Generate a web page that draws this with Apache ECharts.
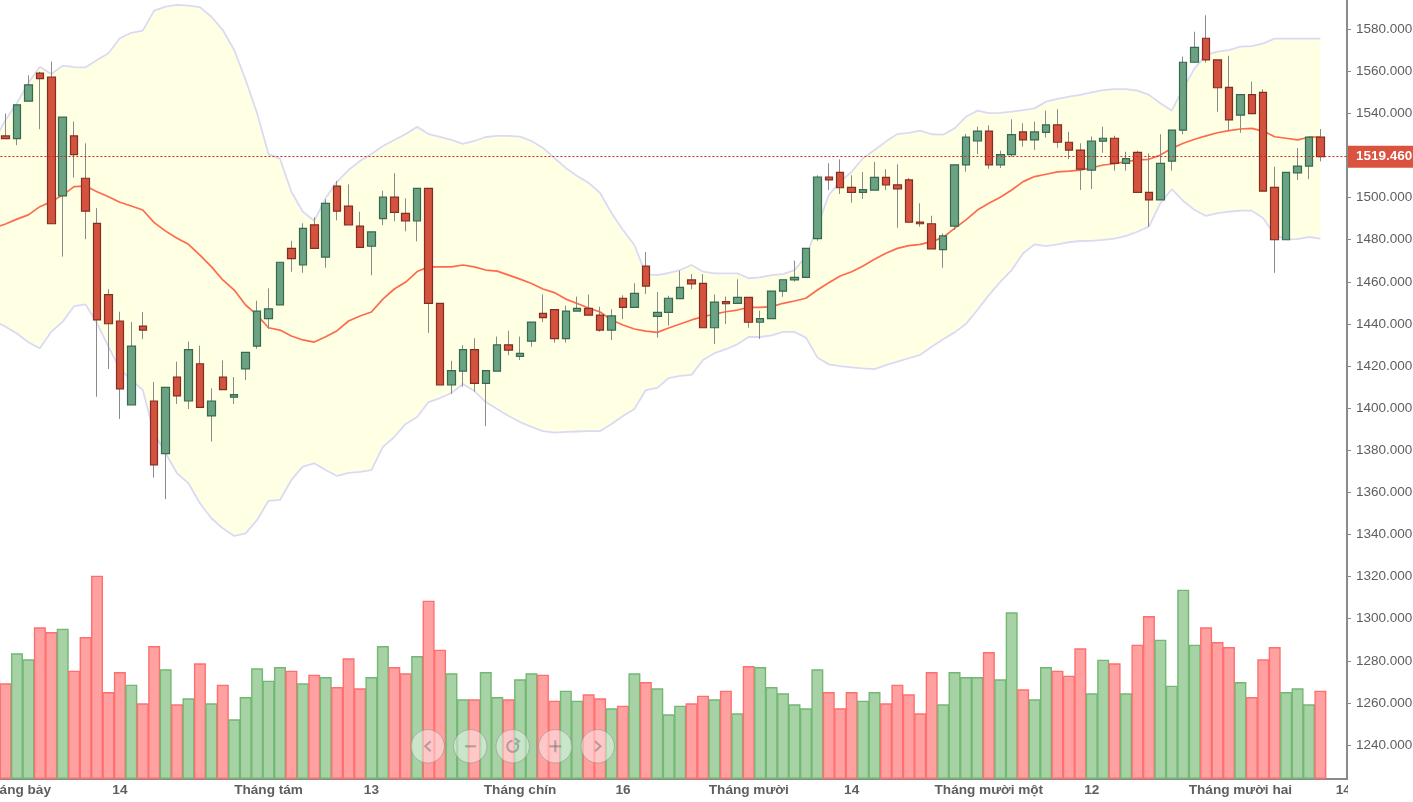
<!DOCTYPE html>
<html>
<head>
<meta charset="utf-8">
<title>Chart</title>
<script src="https://cdn.jsdelivr.net/npm/echarts@6/dist/echarts.min.js"></script>
<style>
  html, body { margin: 0; padding: 0; background: #fff; overflow: hidden; }
  #chart { width: 1413px; height: 802px; }
</style>
</head>
<body>
<div id="chart"></div>
<script>
// Tick labels and the slots they sit on (two bars start before the first label)
var tickSlots = [2, 11, 24, 33, 46, 55, 66, 75, 87, 96, 109, 118];
var tickNames = ['Tháng bảy', '14', 'Tháng tám', '13', 'Tháng chín', '16', 'Tháng mười', '14', 'Tháng mười một', '12', 'Tháng mười hai', '14'];
var priceTicks = [1240, 1260, 1280, 1300, 1320, 1340, 1360, 1380, 1400, 1420, 1440, 1460, 1480, 1500, 1520, 1540, 1560, 1580];
var lastPrice = 1519.46;

var opens = [1524,1529.3,1528,1545.8,1559.1,1557.3,1500.8,1529.3,1509.2,1487.8,1453.9,1441.4,1401.5,1439,1403.4,1378.4,1414.7,1403.4,1421.1,1396.3,
  1414.7,1405.2,1418.7,1429.5,1442.5,1449.1,1475.9,1468,1487.1,1471.7,1505.5,1496,1486.5,1476.9,1490,1500.2,1492.5,1488.9,1504.4,1449.8,
  1411,1417.6,1427.8,1411.8,1417.6,1430.1,1424.6,1431.8,1445,1446.8,1433,1446.1,1447.4,1444.2,1437.1,1452.2,1447.9,1467.5,1443.6,1445.5,
  1452,1460.9,1459.3,1438.2,1450.6,1449.8,1452.6,1440.8,1442.5,1455.6,1460.9,1462.1,1480.5,1509.8,1512,1504.9,1502.5,1503.6,1509.6,1506.1,
  1508.4,1488.4,1487.6,1475.3,1486.5,1515.6,1526.9,1531.6,1515.6,1520.4,1531.2,1527.4,1531,1534.6,1526.3,1522.6,1513.1,1526.8,1528.2,1516.3,
  1521.5,1502.5,1498.9,1517.3,1532.1,1564.3,1575.7,1565.4,1552.4,1539.2,1548.9,1550,1504.9,1480,1511.8,1515,1528.7];
var closes = [1530,1528,1544.1,1553.6,1556.5,1487.6,1538.2,1520.4,1493.6,1441.9,1440.1,1409.2,1429.5,1437.1,1373.1,1409.9,1405.8,1427.8,1400.4,1403.4,
  1408.8,1406.4,1426.5,1446.1,1447.2,1469.3,1471,1485.4,1475.9,1497.3,1493.6,1487,1476.4,1483.7,1500.2,1493,1488.9,1504.4,1449.8,1411,
  1417.8,1427.8,1411.8,1417.8,1430.1,1427.6,1426,1440.9,1443,1433,1446.1,1447.4,1444.2,1437.1,1443.8,1447.9,1454.5,1458,1445.5,1452.2,
  1457.4,1459,1438.2,1450.4,1449.6,1452.6,1440.8,1442.5,1455.6,1461,1462.1,1475.9,1509.8,1508.4,1504.7,1502.5,1503.8,1509.6,1506,1504.2,
  1488.3,1487.6,1475.7,1481.8,1515.6,1528.7,1531.6,1515.6,1520.4,1529.9,1527.4,1531.2,1534.6,1526.3,1522.6,1513.5,1526.9,1528.2,1516.3,1518.5,
  1502.5,1498.9,1516.3,1532.1,1564.3,1571.4,1565.4,1552.2,1536.9,1548.9,1539.9,1503.1,1480,1512,1515,1528.7,1519.46];
var lows = [1520,1528,1524.9,1545.8,1532.5,1487.6,1472,1509.5,1480.3,1405.4,1418.6,1394.9,1401.5,1432.8,1367,1356.8,1402,1399.6,1400.4,1384.1,
  1408.8,1402,1413.4,1428.2,1437.7,1449.1,1464.8,1464.3,1475.9,1466.7,1489.2,1487,1476.4,1463.1,1486.9,1488.8,1484,1479.2,1435.8,1411,
  1406.7,1410.2,1407.8,1391.5,1417.6,1425.1,1422.9,1429.2,1440.9,1431.1,1431.1,1446.1,1444.2,1436.3,1432.4,1442.3,1447.9,1454.2,1433.5,1439.2,
  1452,1456.5,1438.2,1430.5,1440,1449.8,1438.2,1432.9,1442.5,1452.9,1460.1,1462.1,1479.5,1503.6,1501.7,1497.6,1499.4,1503.6,1503.6,1485.7,
  1488.3,1486.2,1475.7,1466.7,1484.6,1512.3,1520.7,1513.7,1514.1,1519.4,1524.2,1522.6,1528.5,1523.7,1518.3,1503.6,1504.1,1521.3,1512.8,1512.8,
  1502.5,1486.2,1498.9,1512.8,1530.1,1564.3,1564.1,1540.8,1531.8,1530.8,1539.9,1503.1,1464.3,1480,1508.4,1508.8,1517.2];
var highs = [1535,1540,1544.1,1558.1,1559.8,1564.6,1538.2,1536.1,1525.8,1495,1456.5,1445.8,1440.9,1445.7,1412.4,1409.9,1422.1,1431.6,1429.7,1409.4,
  1422.7,1414.8,1426.5,1451,1456.9,1469.3,1479.5,1487.8,1490.7,1499.2,1507.9,1506.3,1493.3,1483.7,1503.3,1511.6,1499.7,1504.4,1504.4,1449.8,
  1422.5,1429.9,1433.2,1417.8,1434,1436.8,1434,1440.9,1454,1446.8,1448.7,1453,1454,1448.2,1447,1453.6,1459.3,1474.2,1455.2,1453.4,
  1465.3,1463.7,1463.7,1454,1453,1461.2,1452.6,1446.3,1455.6,1461,1470,1475.9,1510.6,1516.3,1518.2,1510.6,1512.2,1517,1513.5,1515.8,
  1509.3,1497.3,1491.4,1483,1515.6,1530.2,1533.7,1534.3,1522.3,1537.2,1535.3,1536.1,1541.3,1542,1531.3,1525.8,1529,1533.7,1529.4,1521.8,
  1522.3,1521,1530.1,1532.1,1567,1578.8,1586.6,1565.4,1567.4,1548.9,1555.1,1551.5,1514.7,1512,1523.6,1528.7,1532.6];

// Bollinger style bands and the middle average
var upperBand = [1526.9,1536.9,1545,1554.4,1562.2,1558.7,1562.7,1562,1561.9,1565.4,1568.6,1575.7,1578.3,1579.3,1588.8,1590.7,1591.6,1591.2,1590.5,1585.9,
  1579.6,1570.1,1555.9,1540.1,1520.7,1518.5,1502.8,1493.3,1489,1499.8,1507.6,1513.1,1517.4,1520.7,1524.5,1527.4,1530.2,1533.6,1530.2,1528.8,
  1527.4,1525.5,1526.9,1528.8,1529.3,1529.3,1529,1526.9,1523.6,1518.8,1514.1,1510.3,1507,1502.2,1492.7,1484.6,1477.5,1463.7,1463.2,1464.2,
  1465.6,1468,1464.8,1464,1464,1464,1461.7,1462.1,1463.2,1463.7,1465.6,1472,1486.2,1501.2,1507.6,1512.3,1518.7,1522.6,1526.6,1530.2,
  1530.8,1531.8,1530.1,1529.9,1532.9,1538.4,1541.3,1540.1,1540.3,1540.8,1541.6,1542.4,1545.6,1546.9,1548,1548.8,1550,1551.1,1551.5,1551.5,
  1550.8,1548.8,1544.8,1541.3,1551.9,1561.4,1567.8,1569.3,1570.1,1571.7,1572,1573.3,1575.5,1575.5,1575.5,1575.5,1575.5];
var lowerBand = [1441.4,1438.7,1435.5,1431.3,1428.4,1436.3,1441.1,1448.5,1449.3,1440.3,1429.2,1418.5,1413.4,1408.6,1388.1,1378.6,1369.1,1364.3,1354.8,1347.7,
  1342.9,1339.3,1340.5,1346.9,1356,1356.4,1365.9,1372.2,1373.8,1370.6,1367.8,1369.3,1369.7,1370.6,1381.6,1386.3,1392.5,1395.8,1402.9,1404.8,
  1407.2,1411.5,1408.1,1402.9,1399.6,1396.3,1393.4,1391.1,1389.1,1388.4,1388.7,1388.9,1389.1,1389.1,1392.5,1396.3,1399.6,1408.6,1409.6,1414.3,
  1415.3,1415.8,1422.9,1426.1,1428,1430.3,1433.8,1433.8,1434.6,1436.2,1436.2,1433.5,1424.1,1420.8,1420,1419.4,1418.9,1418.5,1420.4,1422.1,
  1423.7,1425.3,1429.2,1432.7,1436,1440,1446.6,1453.7,1460,1465.6,1473.6,1477.8,1477,1477.8,1478.8,1479.4,1479.5,1479.9,1480.5,1481.8,
  1483.8,1486.2,1497.3,1504,1498.4,1494.1,1491.3,1492.6,1493.3,1493.8,1493.8,1490.2,1482.3,1480.2,1480.3,1481.3,1480.5];
var middleBand = [1485.6,1487.5,1489.8,1491.8,1495.7,1498.1,1501.2,1505.2,1505.5,1502.8,1500.4,1497.8,1496,1494.1,1488.1,1484.1,1480.7,1477.8,1472.7,1467.2,
  1460.9,1456.1,1449,1444.2,1438.2,1437.1,1434.3,1432.4,1431.4,1433.9,1436.8,1441.4,1443.8,1445.7,1451.8,1456.6,1459.9,1464.9,1467.1,1467.1,
  1467.1,1468,1467.1,1465.6,1465.1,1463.2,1461.3,1459.2,1456.6,1454.9,1451.8,1449.7,1447.6,1445.7,1441.9,1439.5,1437.6,1436.6,1436,1438.1,
  1440,1441.9,1443.4,1444.7,1445.8,1446.6,1447.9,1447.9,1448.2,1449.8,1450.9,1452.2,1456.1,1459.6,1462.8,1464.8,1467.5,1470.7,1473.6,1475.9,
  1477.2,1477.8,1479.1,1481.1,1485.4,1489.4,1494.1,1497.3,1500.2,1503.6,1507.6,1510,1511.1,1512.2,1512.6,1513.1,1514.2,1515.5,1516.1,1517.1,
  1517.9,1518.2,1520.2,1523.4,1525.8,1527.7,1529.3,1530.8,1531.8,1532.6,1532.9,1531.6,1528.9,1528.2,1527.4,1528.7,1528.8];

// Volume has no scale in the picture, so these are relative bar heights
var volumes = [100.7,95.7,125.7,119.7,151.7,147,150.3,108.3,142,203.3,87,107,94.3,75.7,133,109.7,74.7,80.7,115.7,75.7,
  94.3,59.7,82,110.7,98.3,112,108.3,95.7,104.3,102,92,120.7,90.7,102,133,112,105.7,123,178.3,129.3,
  105.7,79.7,79.7,107,82,79.7,99.7,105.7,104.3,78.3,88.3,78.3,84.7,80.7,70.7,73.3,105.7,97,90.7,64.7,
  73.3,75.7,83.3,79.7,88.3,65.7,113,112,92,85.7,74.7,70.7,109.7,87,70.7,87,78.3,87,75.7,94.3,
  84.7,65.7,107,74.7,107,102,102,127,99.7,166.7,89.7,79.7,112,108.3,103.3,130.7,85.7,119.3,115.7,85.7,
  134.3,163,139.3,93.3,189.3,134.3,151.7,137,132,97,82,119.7,132,87,90.7,74.7,88.3];

var priceMax = 1593.87, priceMin = 1223.85;
var UP = '#6aa283', UP_BORDER = '#356a4f', DOWN = '#d4533f', DOWN_BORDER = '#822e22';
var VOL_UP = '#a6d2a6', VOL_UP_BORDER = '#72b872', VOL_DOWN = '#ffa1a1', VOL_DOWN_BORDER = '#ff6f6f';
var AXIS_COLOR = '#8a8a8a', TEXT_COLOR = '#5e5e5e';
var FONT = '"Liberation Sans", Arial, sans-serif';

var categories = [];
for (var s = 0; s <= tickSlots[tickSlots.length - 1]; s++) categories.push('');
tickSlots.forEach(function (slot, i) { categories[slot] = tickNames[i]; });

var wickData = opens.map(function (o, i) { return [o, closes[i], lows[i], highs[i]]; });
var bodyData = opens.map(function (o, i) {
  return [o, closes[i], Math.min(o, closes[i]), Math.max(o, closes[i])];
});
var volumeData = volumes.map(function (v, i) {
  var up = closes[i] >= opens[i];
  return { value: v, itemStyle: { color: up ? VOL_UP : VOL_DOWN, borderColor: up ? VOL_UP_BORDER : VOL_DOWN_BORDER } };
});
var bandWidth = upperBand.map(function (u, i) { return +(u - lowerBand[i]).toFixed(1); });

var hasLabel = function (index, value) { return value !== ''; };

// Zoom and pan buttons over the volume bars
function navButtons() {
  var centers = [427.7, 470.3, 512.7, 555.3, 597.7];
  var cy = 746.3;
  var ink = { stroke: 'rgba(105,105,105,0.45)', lineWidth: 2.2, fill: 'none' };
  var out = [];
  centers.forEach(function (x) {
    out.push({ type: 'circle', z: 90, shape: { cx: x, cy: cy, r: 16.7 },
      style: { fill: 'rgba(255,255,255,0.42)', stroke: 'rgba(130,130,130,0.45)', lineWidth: 1 } });
  });
  out.push({ type: 'polyline', z: 91, shape: { points: [[430.7, cy - 5], [425.2, cy], [430.7, cy + 5]] }, style: ink });
  out.push({ type: 'line', z: 91, shape: { x1: 465, y1: cy, x2: 476, y2: cy }, style: ink });
  out.push({ type: 'arc', z: 91, shape: { cx: 512.7, cy: cy, r: 5.5, startAngle: -0.5, endAngle: 4.7, clockwise: true }, style: ink });
  out.push({ type: 'polyline', z: 91, shape: { points: [[515, cy - 8], [519, cy - 5], [515, cy - 2]] }, style: ink });
  out.push({ type: 'line', z: 91, shape: { x1: 549.3, y1: cy, x2: 561.3, y2: cy }, style: ink });
  out.push({ type: 'line', z: 91, shape: { x1: 555.3, y1: cy - 6, x2: 555.3, y2: cy + 6 }, style: ink });
  out.push({ type: 'polyline', z: 91, shape: { points: [[595, cy - 5], [600.5, cy], [595, cy + 5]] }, style: ink });
  // the last date label is cut off at the price axis
  out.push({ type: 'rect', z: 80, shape: { x: 1348, y: 778, width: 65, height: 24 }, style: { fill: '#fff' } });
  return out;
}

var chart = echarts.init(document.getElementById('chart'));
chart.setOption({
  animation: false,
  backgroundColor: '#fff',
  grid: { left: -11.6, top: 0, width: 1360.6, height: 779, containLabel: false, outerBoundsMode: 'none' },
  xAxis: {
    type: 'category',
    data: categories,
    boundaryGap: true,
    axisLine: { lineStyle: { color: AXIS_COLOR, width: 2 } },
    axisTick: { alignWithLabel: true, interval: hasLabel, length: 3, lineStyle: { color: AXIS_COLOR, width: 1 } },
    axisLabel: { interval: hasLabel, hideOverlap: false, color: TEXT_COLOR, fontFamily: FONT, fontSize: 13.6, fontWeight: 'bold', margin: 4 },
    splitLine: { show: false }
  },
  yAxis: [{
    type: 'value',
    position: 'right',
    offset: -2,
    min: priceMin,
    max: priceMax,
    axisLine: { show: true, lineStyle: { color: AXIS_COLOR, width: 2 } },
    axisTick: { show: true, customValues: priceTicks, length: 4, lineStyle: { color: AXIS_COLOR, width: 1 } },
    axisLabel: {
      customValues: priceTicks,
      formatter: function (v) { return v.toFixed(3); },
      color: TEXT_COLOR, fontFamily: FONT, fontSize: 13.5, margin: 9
    },
    splitLine: { show: false }
  }, {
    type: 'value',
    show: false,
    min: 0,
    max: 779,
    splitLine: { show: false }
  }],
  series: [
    { name: 'lower', type: 'line', data: lowerBand, stack: 'band', symbol: 'none', z: 3, silent: true,
      lineStyle: { color: '#dadaf5', width: 1.8 } },
    { name: 'fill', type: 'line', data: bandWidth, stack: 'band', symbol: 'none', z: 1, silent: true,
      lineStyle: { width: 0, opacity: 0 }, areaStyle: { color: '#ffffe4', opacity: 1 } },
    { name: 'upper', type: 'line', data: upperBand, symbol: 'none', z: 3, silent: true,
      lineStyle: { color: '#dadaf5', width: 1.8 } },
    { name: 'middle', type: 'line', data: middleBand, symbol: 'none', z: 4, silent: true,
      lineStyle: { color: '#ff6a4d', width: 1.7 } },
    { name: 'volume', type: 'bar', yAxisIndex: 1, data: volumeData, barWidth: 12, z: 2, silent: true,
      itemStyle: { borderWidth: 1.4, borderType: 'solid' } },
    { name: 'wick', type: 'candlestick', data: wickData, barWidth: 1, z: 5, silent: true,
      itemStyle: { color: '#8a8a8a', color0: '#8a8a8a', borderColor: '#8a8a8a', borderColor0: '#8a8a8a', borderWidth: 1 } },
    { name: 'body', type: 'candlestick', data: bodyData, barWidth: 8, z: 6, silent: true,
      itemStyle: { color: UP, color0: DOWN, borderColor: UP_BORDER, borderColor0: DOWN_BORDER, borderWidth: 1.2 },
      markLine: {
        silent: true,
        symbol: 'none',
        z: 7,
        data: [{ yAxis: lastPrice }],
        lineStyle: { color: '#c8281c', type: [2, 2], width: 1.2 },
        label: {
          position: 'end',
          distance: -1,
          formatter: function (p) { return p.value.toFixed(3); },
          backgroundColor: '#d9533f',
          color: '#fff',
          fontFamily: FONT,
          fontSize: 13.5,
          fontWeight: 'bold',
          padding: [4, 2, 4, 8]
        }
      }
    }
  ],
  graphic: { elements: navButtons() }
});
</script>
</body>
</html>
